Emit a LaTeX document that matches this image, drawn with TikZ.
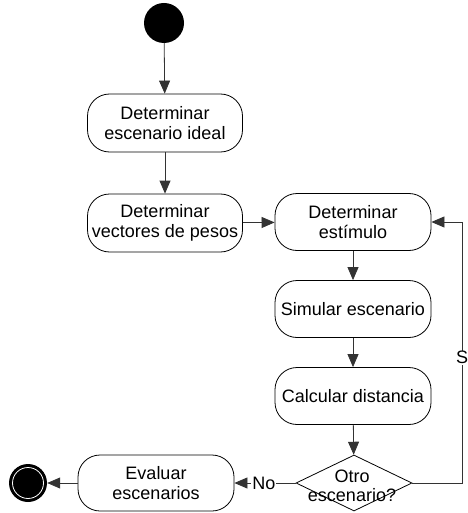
\documentclass[tikz,border=0pt]{standalone}
\usepackage{fontspec}
\setmainfont{Liberation Sans}
\usetikzlibrary{arrows.meta,shapes.geometric}
\begin{document}
\begin{tikzpicture}[x=1pt,y=-1pt,
  act/.style={draw,rectangle,rounded corners=22pt,minimum width=155pt,minimum height=58pt,inner sep=0pt,align=center,font=\fontsize{18}{20}\selectfont,line width=0.8pt},
  flow/.style={draw=black!80,line width=0.8pt,-{Triangle[length=13pt,width=11pt]}},
  lbl/.style={fill=white,inner sep=1pt,font=\fontsize{18}{20}\selectfont}]
\useasboundingbox (0,0) rectangle (467,513);
\node[circle,fill=black,minimum size=40pt,inner sep=0pt] (start) at (164,23) {};
\node[act] (n1) at (165,123) {Determinar\\escenario ideal};
\node[act] (n2) at (165,223) {Determinar\\vectores de pesos};
\node[act,minimum width=156pt,minimum height=57pt] (n3) at (353,222) {Determinar\\estímulo};
\node[act,minimum width=156pt,minimum height=57pt] (n4) at (353,309) {Simular escenario};
\node[act,minimum width=156pt,minimum height=57pt] (n5) at (353,396) {Calcular distancia};
\node[diamond,draw,minimum width=116pt,minimum height=56pt,inner sep=0pt,line width=0.8pt] (d) at (354,483) {};
\node[align=center,inner sep=0pt,font=\fontsize{18}{19}\selectfont] (dt) at (352,486) {Otro\\escenario?};
\node[act,minimum width=156pt,minimum height=56pt] (ev) at (156,483) {Evaluar\\escenarios};
\node[circle,fill=black,minimum size=38pt,inner sep=0pt] (end) at (28,483) {};
\node[circle,draw=white,line width=0.8pt,minimum size=31pt,inner sep=0pt] (endring) at (end) {};
\coordinate (loop) at (462,483);
\draw[flow] (start) -- (n1);
\draw[flow] (n1) -- (n2);
\draw[flow] (n2) -- (n3);
\draw[flow] (n3) -- (n4);
\draw[flow] (n4) -- (n5);
\draw[flow] (n5) -- (d);
\draw[flow] (d.west) -- node[lbl,pos=0.52]{No} (ev.east);
\draw[flow] (ev.west) -- (end);
\draw[flow] (d.east) -- (loop) -- node[lbl,pos=0.48,inner sep=0.5pt]{S} (loop|-n3.east) -- (n3.east);
\end{tikzpicture}
\end{document}
